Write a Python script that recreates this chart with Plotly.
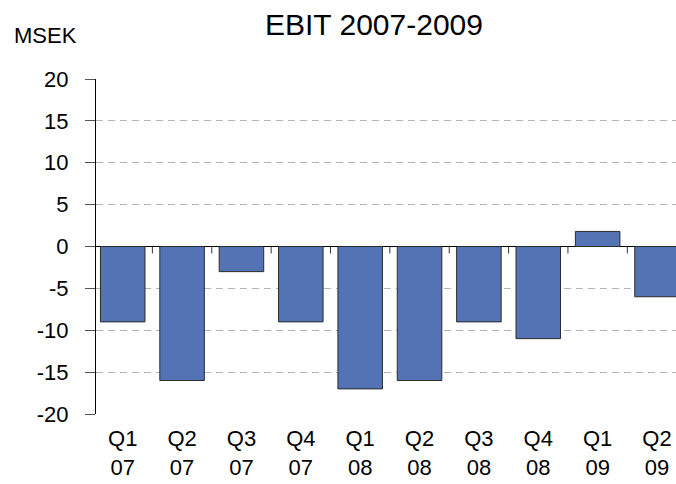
import plotly.graph_objects as go

quarters = ["Q1<br>07", "Q2<br>07", "Q3<br>07", "Q4<br>07",
            "Q1<br>08", "Q2<br>08", "Q3<br>08", "Q4<br>08",
            "Q1<br>09", "Q2<br>09"]
ebit = [-9, -16, -3, -9, -17, -16, -9, -11, 1.8, -6]
y_ticks = [-20, -15, -10, -5, 0, 5, 10, 15, 20]
y_labels = [str(v) for v in y_ticks]

FONT = "Liberation Sans, Arial, sans-serif"
W, H = 676, 484
L, R, T, B = 96, 0, 79, 70

fig = go.Figure()
fig.add_trace(go.Bar(
    x=list(range(len(quarters))), y=ebit,
    marker=dict(color="#5473b5", line=dict(color="#2b2b2b", width=1)),
    width=0.75,
))

shapes = []
for i in range(len(quarters) - 1):
    shapes.append(dict(type="line", xref="x", yref="y",
                       x0=i + 0.5, x1=i + 0.5,
                       ysizemode="pixel", yanchor=0, y0=0, y1=-7,
                       line=dict(color="#333333", width=1)))

pw = W - L - R
ph = H - T - B

fig.update_layout(
    width=W, height=H,
    margin=dict(l=L, r=R, t=T, b=B, autoexpand=False),
    paper_bgcolor="white", plot_bgcolor="white",
    showlegend=False,
    font=dict(family=FONT, color="#000000"),
    title=dict(text="EBIT 2007-2009", x=374 / W, xanchor="center",
               xref="container", y=1 - 24 / H, yanchor="middle",
               font=dict(size=30, family=FONT, color="#000000")),
    xaxis=dict(
        range=[-0.45, 9.32],
        tickmode="array", tickvals=list(range(len(quarters))), ticktext=quarters,
        showgrid=False, showline=False, ticks="", zeroline=False,
        tickfont=dict(size=22, family=FONT, color="#000000"),
        ticklabelstandoff=9, automargin=False,
    ),
    yaxis=dict(
        range=[-20, 20], tickmode="array", tickvals=y_ticks, ticktext=y_labels,
        showgrid=True, gridcolor="#b4b4b4", griddash="7px,5px", gridwidth=1,
        zeroline=True, zerolinecolor="#000000", zerolinewidth=1,
        showline=True, linecolor="#000000", linewidth=1,
        ticks="outside", ticklen=10, tickcolor="#555555",
        tickfont=dict(size=22, family=FONT, color="#000000"),
        ticklabelstandoff=12, automargin=False,
    ),
    shapes=shapes,
    annotations=[dict(text="MSEK", xref="paper", yref="paper",
                      x=(12 - L) / pw, y=1 + (T - 35.5) / ph,
                      xanchor="left", yanchor="middle", showarrow=False,
                      font=dict(size=22, family=FONT, color="#000000"))],
)

fig.write_html("out.html", config={"displayModeBar": False},
               post_script="document.body.style.margin='0px';")
